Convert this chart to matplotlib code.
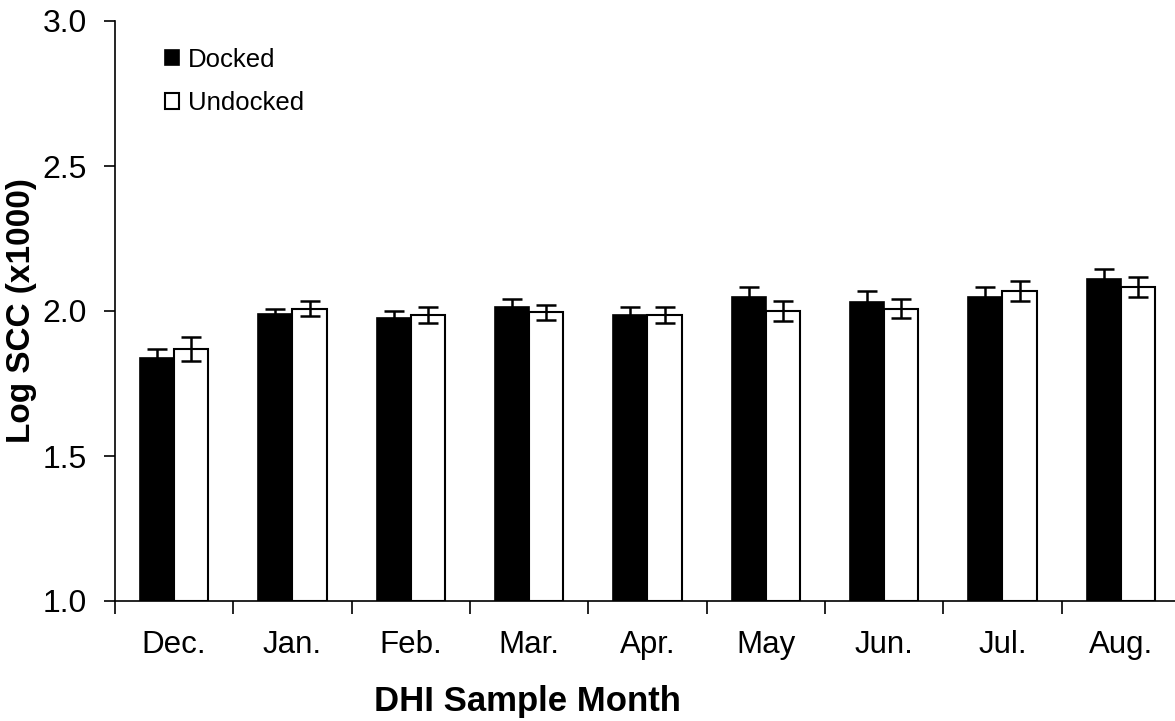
import matplotlib.pyplot as plt
import numpy as np

plt.rcParams['font.family'] = ['Liberation Sans', 'DejaVu Sans']

months = ['Dec.', 'Jan.', 'Feb.', 'Mar.', 'Apr.', 'May', 'Jun.', 'Jul.', 'Aug.']
docked = [1.837, 1.989, 1.975, 2.015, 1.987, 2.049, 2.030, 2.050, 2.111]
docked_err = [0.032, 0.018, 0.025, 0.026, 0.027, 0.033, 0.038, 0.032, 0.033]
undocked = [1.869, 2.008, 1.987, 1.996, 1.987, 2.000, 2.008, 2.070, 2.084]
undocked_err = [0.040, 0.026, 0.028, 0.026, 0.027, 0.034, 0.033, 0.034, 0.034]

W, H = 1175, 721
fig = plt.figure(figsize=(W / 100, H / 100), dpi=100)
# plot area runs a little past the right edge, as in the original
ax = fig.add_axes([115 / W, 1 - 601 / H, (1180 - 115) / W, (601 - 21) / H])

x = np.arange(len(months)) + 0.5
bw = 0.29
ekw = dict(elinewidth=1.8, capthick=1.8, ecolor='black')
ax.bar(x - bw / 2, np.array(docked) - 1, bw, bottom=1, color='black',
       edgecolor='black', linewidth=1.2, label='Docked',
       yerr=docked_err, capsize=7, error_kw=ekw)
ax.bar(x + bw / 2, np.array(undocked) - 1, bw, bottom=1, color='white',
       edgecolor='black', linewidth=1.5, label='Undocked',
       yerr=undocked_err, capsize=7, error_kw=ekw)

ax.set_xlim(0, len(months))
ax.set_ylim(1.0, 3.0)
ax.set_yticks([1.0, 1.5, 2.0, 2.5, 3.0])
ax.set_yticklabels(['1.0', '1.5', '2.0', '2.5', '3.0'], fontsize=23)
ax.set_xticks(np.arange(len(months) + 1))
ax.set_xticklabels([])
ax.set_xticks(x, minor=True)
ax.set_xticklabels(months, minor=True, fontsize=22.5)
ax.tick_params(axis='x', which='minor', length=0, pad=21)
ax.tick_params(axis='x', which='major', length=9, width=1.2, direction='out')
ax.tick_params(axis='y', length=8, width=1.2, direction='out', pad=12)

for s in ['top', 'right']:
    ax.spines[s].set_visible(False)
for s in ['left', 'bottom']:
    ax.spines[s].set_linewidth(1.2)

fig.text(22 / W, 1 - 311 / H, 'Log SCC (x1000)', fontsize=24, fontweight='bold',
         rotation=90, ha='center', va='center')
fig.text(527 / W, 1 - 701 / H, 'DHI Sample Month', fontsize=25,
         fontweight='bold', ha='center', va='center')

ax.legend(loc='upper left', bbox_to_anchor=(0.03, 0.985), frameon=False,
          fontsize=18.5, handlelength=0.55, handleheight=0.55, handletextpad=0.35,
          labelspacing=0.75, borderpad=0.2)

fig.savefig('out.png', dpi=100)
